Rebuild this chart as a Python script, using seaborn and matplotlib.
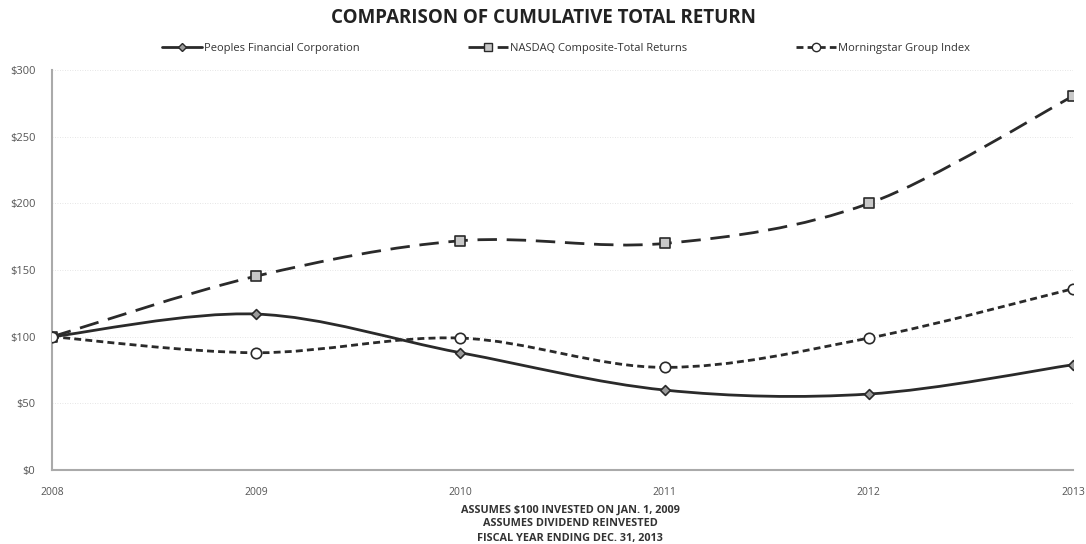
import numpy as np
import pandas as pd
import matplotlib
matplotlib.use("Agg")
import matplotlib.pyplot as plt
from matplotlib.path import Path
from matplotlib.patches import PathPatch
from matplotlib.lines import Line2D
import seaborn as sns

years = [2008, 2009, 2010, 2011, 2012, 2013]
peoples = [100, 117, 88, 60, 57, 79]
nasdaq = [100, 145.5, 172, 170, 200, 280.5]
morningstar = [100, 88, 99, 77, 99, 136]
series_names = ["Peoples Financial Corporation", "NASDAQ Composite-Total Returns", "Morningstar Group Index"]
y_ticks = [0, 50, 100, 150, 200, 250, 300]
y_labels = ["$0", "$50", "$100", "$150", "$200", "$250", "$300"]
title = "COMPARISON OF CUMULATIVE TOTAL RETURN"
footer = ["ASSUMES $100 INVESTED ON JAN. 1, 2009", "ASSUMES DIVIDEND REINVESTED", "FISCAL YEAR ENDING DEC. 31, 2013"]

sns.set_style("white")
plt.rcParams["font.family"] = ["Open Sans", "DejaVu Sans"]

fig = plt.figure(figsize=(10.86, 5.44), dpi=100)
ax = fig.add_axes([0.048, 0.136, 0.940, 0.735])

df = pd.DataFrame({"year": years * 3,
                   "value": peoples + nasdaq + morningstar,
                   "series": [series_names[0]] * 6 + [series_names[1]] * 6 + [series_names[2]] * 6})

styles = {
    series_names[0]: dict(ls="-", marker="D", ms=5, mfc="#9a9a9a"),
    series_names[1]: dict(ls=(0, (7, 3.5)), marker="s", ms=7, mfc="#c8c8c8"),
    series_names[2]: dict(ls=(0, (2.5, 1.5)), marker="o", ms=7.5, mfc="white"),
}
col = "#2a2a2a"

def smooth_path(xs, ys):
    pts = np.column_stack([xs, ys]).astype(float)
    verts = [pts[0]]
    codes = [Path.MOVETO]
    n = len(pts)
    for i in range(n - 1):
        p0 = pts[i - 1] if i > 0 else pts[i]
        p1 = pts[i]
        p2 = pts[i + 1]
        p3 = pts[i + 2] if i + 2 < n else pts[i + 1]
        c1 = p1 + (p2 - p0) / 6.0
        c2 = p2 - (p3 - p1) / 6.0
        verts += [c1, c2, p2]
        codes += [Path.CURVE4] * 3
    return Path(verts, codes)

handles = []
for name in series_names:
    sub = df[df.series == name]
    st = styles[name]
    patch = PathPatch(smooth_path(sub.year.values, sub.value.values), fill=False,
                      edgecolor=col, lw=2.0, linestyle=st["ls"], zorder=2)
    ax.add_patch(patch)
    sns.scatterplot(data=sub, x="year", y="value", marker=st["marker"], s=st["ms"] ** 2,
                    color=st["mfc"], edgecolor=col, linewidth=1.2, ax=ax, zorder=3, legend=False)
    handles.append(Line2D([0], [0], color=col, lw=2.0, linestyle=st["ls"], marker=st["marker"],
                          ms=st["ms"] * 0.8, mfc=st["mfc"], mec=col))

ax.set_xlim(2008, 2013)
ax.set_ylim(0, 300)
ax.set_yticks(y_ticks)
ax.set_yticklabels(y_labels)
ax.set_xticks(years)
ax.set_xticklabels([str(y) for y in years])
ax.set_xlabel("")
ax.set_ylabel("")
ax.tick_params(axis="both", labelsize=7.5, colors="#555555", length=4, width=1, direction="out")
ax.tick_params(axis="x", pad=8)
ax.tick_params(axis="y", labelsize=8, pad=8)
for yv in y_ticks[1:]:
    ax.axhline(yv, color="#dddddd", lw=0.6, ls=(0, (1, 2)), zorder=0)
for s in ["top", "right"]:
    ax.spines[s].set_visible(False)
for s in ["left", "bottom"]:
    ax.spines[s].set_color("#aaaaaa")
    ax.spines[s].set_linewidth(1.5)

fig.text(0.5, 1 - 18 / 544, title, ha="center", va="center", fontsize=13.5, fontweight="bold", color="#222222")
fig.legend(handles=handles, labels=series_names, loc="center", bbox_to_anchor=(566 / 1086, 1 - 48 / 544), ncol=3,
           frameon=False, fontsize=8, handlelength=3.6, handletextpad=0.15, columnspacing=9.8,
           labelcolor="#333333")
for i, line in enumerate(footer):
    fig.text(570 / 1086, (544 - 510 - i * 14) / 544, line, ha="center", va="center", fontsize=7.8,
             color="#333333", fontweight="bold")

fig.savefig("out.png", dpi=100, facecolor="white")
